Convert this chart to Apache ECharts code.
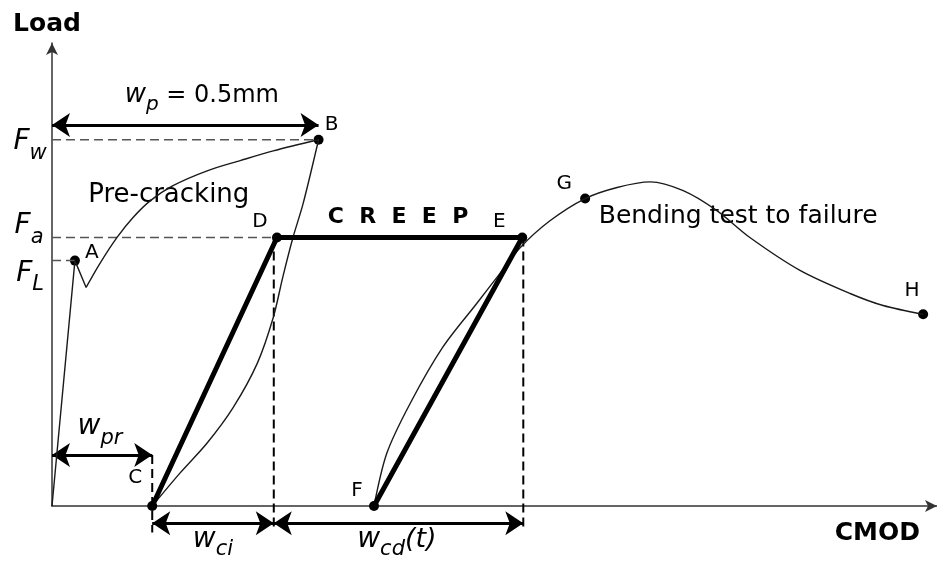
<!DOCTYPE html>
<html>
<head>
<meta charset="utf-8">
<title>Load - CMOD creep test</title>
<script src="https://cdn.jsdelivr.net/npm/echarts@6/dist/echarts.min.js"></script>
<style>
  html, body { margin: 0; padding: 0; background: #fff; }
  #loadChart { width: 937px; height: 572px; }
</style>
</head>
<body>
<div id="loadChart"></div>
<script>
// CMOD in mm (w_p = 0.5 mm), load in arbitrary units 0-10
const elasticBranch = [[0, 0], [0.043, 5.30], [0.064, 4.72]];
const preCrackCurve = [[0.064, 4.72], [0.090, 5.24], [0.122, 5.80], [0.152, 6.23], [0.184, 6.59],
  [0.227, 6.92], [0.291, 7.24], [0.353, 7.46], [0.415, 7.67], [0.5, 7.91]];
const unloadCurve = [[0.5, 7.91], [0.471, 6.53], [0.452, 5.80], [0.433, 4.95], [0.415, 4.07],
  [0.385, 3.08], [0.340, 2.13], [0.291, 1.36], [0.240, 0.71], [0.188, 0]];
const creepPath = [[0.188, 0], [0.422, 5.80], [0.882, 5.80], [0.604, 0]];
const reloadCurve = [[0.604, 0], [0.628, 1.14], [0.672, 2.22], [0.733, 3.43], [0.797, 4.38],
  [0.840, 5.02], [0.878, 5.58], [0.934, 6.16], [1.0, 6.64], [1.060, 6.88], [1.122, 7.00],
  [1.184, 6.81], [1.247, 6.38], [1.309, 5.80], [1.403, 5.09], [1.497, 4.59], [1.559, 4.33], [1.634, 4.14]];

const pointNames = ['A', 'B', 'C', 'D', 'E', 'F', 'G', 'H'];
const pointCoords = [[0.043, 5.30], [0.5, 7.91], [0.188, 0], [0.422, 5.80], [0.882, 5.80],
  [0.604, 0], [1.0, 6.64], [1.634, 4.14]];

// F_w, F_a, F_L
const forceNames = ['w', 'a', 'L'];
const forceValues = [7.91, 5.80, 5.30];
const forceGuideEnd = [0.5, 0.422, 0.043];

// crack openings marked under C, D, E
const crackMarks = [0.188, 0.416, 0.884];
const crackMarkTop = [1.10, 5.80, 5.80];

// dimension arrows w_p, w_pr, w_ci, w_cd(t)
const spanNames = ['p', 'pr', 'ci', 'cd'];
const spanFrom = [0, 0, 0.188, 0.416];
const spanTo = [0.5, 0.188, 0.416, 0.884];
const spanLevel = [8.23, 1.10, -0.37, -0.37];

const FONT = '"DejaVu Sans", sans-serif';
const chart = echarts.init(document.getElementById('loadChart'));

const labelOffsets = {
  A: [17, -8], B: [13, -15], C: [-17, -28], D: [-17, -16],
  E: [-23, -16], F: [-17, -15], G: [-21, -15], H: [-11, -24]
};

function curve(data, width, smooth, color) {
  return {
    type: 'line', data: data, smooth: smooth, symbol: 'none', silent: true, clip: false,
    lineStyle: { color: color || '#1a1a1a', width: width }
  };
}

function dashed(data, color, width) {
  return {
    type: 'line', data: data, symbol: 'none', silent: true, clip: false,
    lineStyle: { color: color, width: width, type: [9, 5] }
  };
}

function sub(main, s, tail, drop) {
  return {
    formatter: '{m|' + main + '}{s|' + s + '}' + (tail ? '{t|' + tail + '}' : ''),
    rich: {
      m: { fontFamily: FONT, fontSize: 28, fontStyle: 'italic', color: '#000', verticalAlign: 'bottom', padding: [0, 0, drop, 0] },
      s: { fontFamily: FONT, fontSize: 21, fontStyle: 'italic', color: '#000', verticalAlign: 'bottom' },
      t: { fontFamily: FONT, fontSize: 27, fontStyle: 'italic', color: '#000', verticalAlign: 'bottom', padding: [0, 0, drop, 0] }
    }
  };
}

const series = [];

forceNames.forEach(function (n, i) {
  series.push(dashed([[0, forceValues[i]], [forceGuideEnd[i], forceValues[i]]], '#555', 1.5));
});
crackMarks.forEach(function (x, i) {
  series.push(dashed([[x, crackMarkTop[i]], [x, i === 0 ? -0.57 : -0.52]], '#000', 2));
});

series.push(curve(elasticBranch, 1.4, false));
series.push(curve(preCrackCurve, 1.4, 0.3));
series.push(curve(unloadCurve, 1.4, 0.3));
series.push(curve(reloadCurve, 1.4, 0.3));
series.push(curve(creepPath, 5, false, '#000'));

series.push({
  type: 'lines',
  coordinateSystem: 'cartesian2d',
  silent: true,
  clip: false,
  symbol: ['arrow', 'arrow'],
  symbolSize: 18,
  lineStyle: { color: '#000', width: 3, opacity: 1 },
  data: spanNames.map(function (n, i) {
    return { coords: [[spanFrom[i], spanLevel[i]], [spanTo[i], spanLevel[i]]] };
  })
});

series.push({
  type: 'scatter',
  silent: true,
  clip: false,
  symbolSize: 10,
  itemStyle: { color: '#000', opacity: 1 },
  data: pointNames.map(function (n, i) {
    return {
      name: n,
      value: pointCoords[i],
      label: {
        show: true, position: 'inside', formatter: n, offset: labelOffsets[n],
        fontFamily: FONT, fontSize: 20, color: '#000'
      }
    };
  })
});

// text annotations
const notes = [
  { value: [-0.041, 7.78], label: sub('F', forceNames[0], '', 8) },
  { value: [-0.043, 5.97], label: sub('F', forceNames[1], '', 8) },
  { value: [-0.041, 4.94], label: sub('F', forceNames[2], '', 8) },
  { value: [0.090, 1.62], label: sub('w', spanNames[1], '', 9) },
  { value: [0.302, -0.80], label: sub('w', spanNames[2], '', 7) },
  { value: [0.647, -0.80], label: sub('w', spanNames[3], '(t)', 7) },
  {
    value: [0.281, 8.80],
    label: {
      formatter: '{m|w}{s|p}{t| = 0.5mm}',
      rich: {
        m: { fontFamily: FONT, fontSize: 26, fontStyle: 'italic', color: '#000', verticalAlign: 'bottom', padding: [0, 0, 7, 0] },
        s: { fontFamily: FONT, fontSize: 20, fontStyle: 'italic', color: '#000', verticalAlign: 'bottom' },
        t: { fontFamily: FONT, fontSize: 24, color: '#000', verticalAlign: 'bottom', padding: [0, 0, 7, 0] }
      }
    }
  },
  { value: [0.219, 6.72], label: { formatter: 'Pre-cracking', fontFamily: FONT, fontSize: 26, color: '#000' } },
  { value: [0.649, 6.23], label: { formatter: 'C  R  E  E  P', fontFamily: FONT, fontSize: 22, fontWeight: 'bold', color: '#000' } },
  { value: [1.287, 6.25], label: { formatter: 'Bending test to failure', fontFamily: FONT, fontSize: 25, color: '#000' } }
];
notes.forEach(function (d) {
  d.label.show = true;
  d.label.position = 'inside';
});
series.push({
  type: 'scatter', silent: true, clip: false, symbolSize: 0,
  itemStyle: { opacity: 1 }, data: notes
});

chart.setOption({
  backgroundColor: '#fff',
  animation: false,
  grid: { left: 52, right: 0, top: 43, bottom: 66 },
  xAxis: {
    type: 'value', min: 0, max: 1.66,
    name: 'CMOD', nameLocation: 'end', nameGap: -17,
    nameTextStyle: {
      fontFamily: FONT, fontSize: 25, fontWeight: 'bold', color: '#000',
      align: 'right', verticalAlign: 'top', padding: [15, 0, 0, 0]
    },
    axisLine: { symbol: ['none', 'arrow'], symbolSize: [9, 12], lineStyle: { color: '#333', width: 1.5 } },
    axisTick: { show: false }, axisLabel: { show: false }, splitLine: { show: false }
  },
  yAxis: {
    type: 'value', min: 0, max: 10,
    name: 'Load', nameLocation: 'end', nameGap: 6,
    nameTextStyle: {
      fontFamily: FONT, fontSize: 25, fontWeight: 'bold', color: '#000',
      padding: [0, 10, 0, 0]
    },
    axisLine: { symbol: ['none', 'arrow'], symbolSize: [9, 12], lineStyle: { color: '#333', width: 1.5 } },
    axisTick: { show: false }, axisLabel: { show: false }, splitLine: { show: false }
  },
  series: series
});
</script>
</body>
</html>
